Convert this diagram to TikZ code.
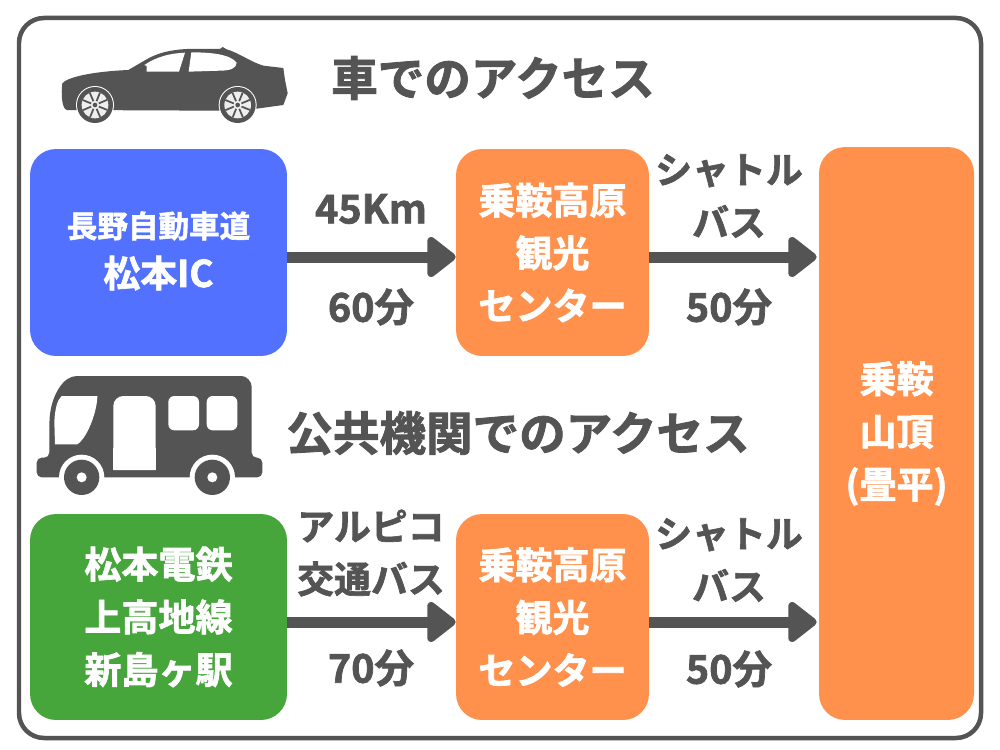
\documentclass[tikz,border=0pt]{standalone}
\usepackage{fontspec}
\setmainfont{Noto Sans CJK JP}[BoldFont=* Bold,BoldFeatures={FakeBold=1.8}]
\usetikzlibrary{arrows.meta}
\definecolor{inkgray}{HTML}{545454}
\definecolor{placeblue}{HTML}{5271FF}
\definecolor{placegreen}{HTML}{46A63C}
\definecolor{placeorange}{HTML}{FF914D}
\tikzset{
  placebox/.style={rounded corners=0.52cm,inner sep=0pt,text=white,align=center,font=\bfseries\fontsize{21.1}{30}\selectfont},
  routearrow/.style={draw=inkgray,line width=0.22cm,-{Triangle[length=0.62cm,width=0.92cm,round]}},
  routelabel/.style={text=inkgray,align=center,font=\bfseries\fontsize{21}{30}\selectfont},
  timelabel/.style={text=inkgray,font=\bfseries\fontsize{22.5}{30}\selectfont},
  headlabel/.style={text=inkgray,font=\bfseries\fontsize{26.5}{30}\selectfont},
}
\begin{document}
\begin{tikzpicture}[x=0.02cm,y=-0.02cm]
    \useasboundingbox (0,0) rectangle (1000,750);
    \fill[white] (0,0) rectangle (1000,750);
    \draw[inkgray,line width=0.09cm,rounded corners=0.5cm] (19,18) rectangle (981,738);
    % car
    \begin{scope}[shift={(30,30)},scale=1/3]
        \fill[inkgray] (97,160) .. controls (110,143) and (180,125) .. (295,120)
            -- (350,88) .. controls (385,68) and (420,60) .. (470,57) -- (570,57)
            -- (578,51) -- (590,58) .. controls (630,70) and (660,95) .. (700,107)
            -- (760,114) -- (765,150) -- (773,190) -- (760,225) -- (680,236)
            -- (560,242) -- (110,240) .. controls (95,235) and (93,190) .. (97,160) -- cycle;
        \fill[white] (350,125) -- (350,108) -- (343,105) .. controls (380,80) and (420,70) .. (465,68)
            -- (447,125) -- cycle;
        \fill[white] (476,125) -- (484,67) .. controls (540,67) and (600,72) .. (620,98)
            .. controls (620,115) and (600,122) .. (570,122) -- cycle;
        \foreach \wheelx in {195,623} {
            \fill[white] (\wheelx,225) circle[radius=57*0.02cm];
            \fill[inkgray] (\wheelx,225) circle[radius=54*0.02cm];
            \fill[white!90!inkgray] (\wheelx,225) circle[radius=40*0.02cm];
            \foreach \spoke in {0,45,...,315}
                \draw[inkgray,line width=0.035cm] (\wheelx,225) -- ++(\spoke+22:40);
            \fill[white!90!inkgray] (\wheelx,225) circle[radius=13*0.02cm];
            \fill[inkgray] (\wheelx,225) circle[radius=7*0.02cm];
        }
    \end{scope}
    % bus
    \begin{scope}[shift={(20,365)},scale=1/3]
        \fill[inkgray,rounded corners=0.1cm] (88,278) -- (88,170) .. controls (95,90) and (130,33) .. (185,33)
            -- (650,33) .. controls (680,33) and (695,50) .. (695,80) -- (695,278) -- (727,278) -- (727,337) -- (50,337) -- (50,278) -- cycle;
        \fill[white] (105,238) -- (103,170) .. controls (105,130) and (112,105) .. (125,93)
            -- (232,93) .. controls (232,135) and (205,215) .. (172,238) -- cycle;
        \fill[white,rounded corners=0.2cm] (280,315) -- (280,93) -- (407,93) -- (407,315);
        \fill[white] (280,250) rectangle (407,315);
        \fill[white,rounded corners=0.12cm] (445,93) rectangle (537,196);
        \fill[white,rounded corners=0.12cm] (560,93) rectangle (652,196);
        \foreach \wheelx in {185,577} {
            \fill[white] (\wheelx,337) circle[radius=68*0.02cm];
            \fill[inkgray] (\wheelx,337) circle[radius=53*0.02cm];
            \fill[white] (\wheelx,337) circle[radius=15*0.02cm];
        }
    \end{scope}
    \node[headlabel] (carhead) at (493,78) {車でのアクセス};
    \node[headlabel] (bushead) at (518,433) {公共機関でのアクセス};
    % places
    \node[placebox,fill=placeblue,minimum width=5.14cm,minimum height=4.14cm] (matsumotoic) at (158.5,252.5) {};
    \node[placebox,fill=placeorange,minimum width=3.86cm,minimum height=4.14cm] (centerA) at (552.5,252.5) {乗鞍高原\\観光\\センター};
    \node[placebox,fill=placegreen,minimum width=5.14cm,minimum height=4.12cm] (shimashima) at (158.5,617) {松本電鉄\\上高地線\\新島ヶ駅};
    \node[placebox,fill=placeorange,minimum width=3.86cm,minimum height=4.12cm] (centerB) at (552.5,617) {乗鞍高原\\観光\\センター};
    \node[placebox,fill=placeorange,minimum width=3.1cm,minimum height=11.46cm] (summit) at (896.5,433.5) {乗鞍\\山頂\\(畳平)};
    \node[text=white,font=\bfseries\fontsize{17.4}{24}\selectfont] (icline) at (158.5,226) {長野自動車道};
    \node[text=white,font=\bfseries\fontsize{21}{24}\selectfont] (icname) at (158.5,273) {松本IC};
    % arrows
    \draw[routearrow] ([yshift=-0.09cm]matsumotoic.east) -- ([yshift=-0.09cm]centerA.west);
    \draw[routearrow,shorten >=0.04cm] ([yshift=-0.09cm]centerA.east) -- ([yshift=-0.09cm]centerA.east -| summit.west);
    \draw[routearrow] ([yshift=-0.1cm]shimashima.east) -- ([yshift=-0.1cm]centerB.west);
    \draw[routearrow,shorten >=0.04cm] ([yshift=-0.1cm]centerB.east) -- ([yshift=-0.1cm]centerB.east -| summit.west);
    % labels
    \node[timelabel] (distA) at (371,209) {45Km};
    \node[timelabel] (timeA) at (371,307) {60分};
    \node[routelabel] (shuttleA) at (729,196) {シャトル\\バス};
    \node[timelabel] (shuttletimeA) at (729,307) {50分};
    \node[routelabel] (alpico) at (371,553) {アルピコ\\交通バス};
    \node[timelabel] (timeB) at (371,668) {70分};
    \node[routelabel] (shuttleB) at (729,560) {シャトル\\バス};
    \node[timelabel] (shuttletimeB) at (729,669) {50分};
\end{tikzpicture}
\end{document}
